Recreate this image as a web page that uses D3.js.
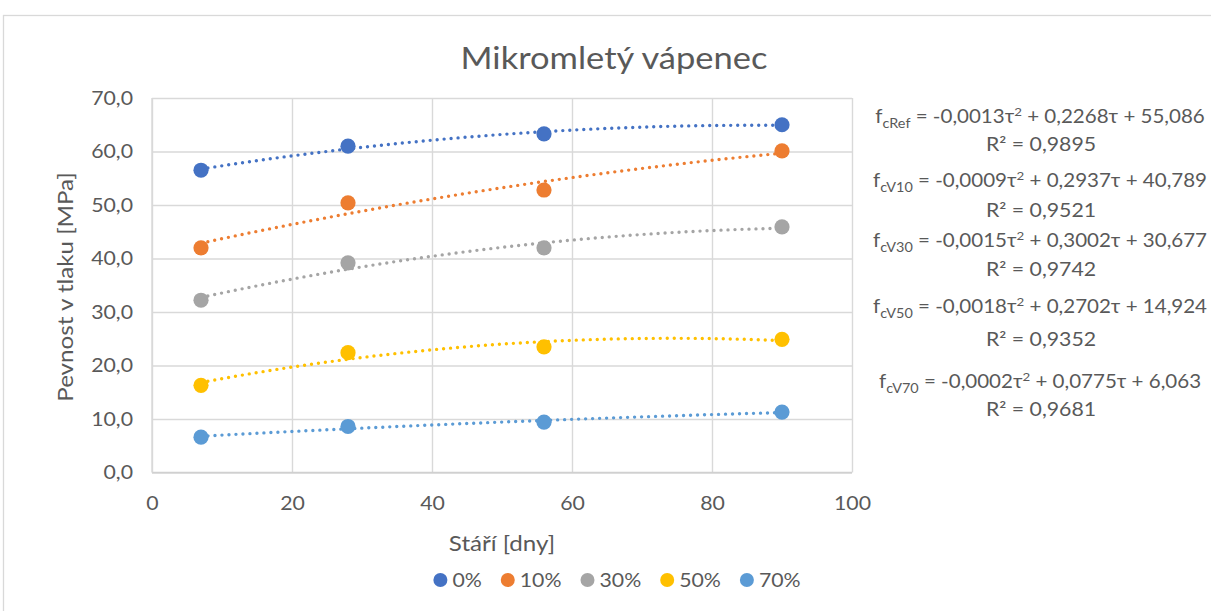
<!DOCTYPE html>
<html>
<head>
<meta charset="utf-8">
<script src="https://cdn.jsdelivr.net/npm/d3@7/dist/d3.min.js"></script>
<style>
  html, body { margin: 0; padding: 0; background: #fff; }
  svg { display: block; }
  text { font-family: Lato, "Open Sans", sans-serif; fill: #595959; }
</style>
</head>
<body>
<svg id="chart" width="1211" height="611"></svg>
<script>
// ---- data ----
const ages = [7, 28, 56, 90];
const seriesNames = ["0%", "10%", "30%", "50%", "70%"];
const values0 = [56.5, 61.0, 63.3, 65.0];
const values10 = [42.0, 50.4, 52.8, 60.1];
const values30 = [32.2, 39.2, 42.0, 45.9];
const values50 = [16.3, 22.4, 23.5, 24.9];
const values70 = [6.6, 8.6, 9.4, 11.3];
const seriesColors = ["#4472C4", "#ED7D31", "#A5A5A5", "#FFC000", "#5B9BD5"];
const xTicks = [0, 20, 40, 60, 80, 100];
const yTicks = [0, 10, 20, 30, 40, 50, 60, 70];
const eqSubs = ["cRef", "cV10", "cV30", "cV50", "cV70"];
const eqBodies = [
  [" = -0,0013τ", "2", " + 0,2268τ + 55,086"],
  [" = -0,0009τ", "2", " + 0,2937τ + 40,789"],
  [" = -0,0015τ", "2", " + 0,3002τ + 30,677"],
  [" = -0,0018τ", "2", " + 0,2702τ + 14,924"],
  [" = -0,0002τ", "2", " + 0,0775τ + 6,063"]
];
const eqR2 = ["R² = 0,9895", "R² = 0,9521", "R² = 0,9742", "R² = 0,9352", "R² = 0,9681"];
const titleText = "Mikromletý vápenec";
const xTitle = "Stáří [dny]";
const yTitle = "Pevnost v tlaku [MPa]";

const allValues = [values0, values10, values30, values50, values70];

// ---- layout ----
const SX = 1.15; // horizontal text stretch
const SXE = 1.11; // stretch for equations
const svg = d3.select("#chart");
const x = d3.scaleLinear().domain([0, 100]).range([152, 852]);
const y = d3.scaleLinear().domain([0, 70]).range([472.5, 98]);
const fmtY = d => d.toFixed(1).replace(".", ",");

// chart border
svg.append("rect").attr("x", 3.5).attr("y", 15.5).attr("width", 1400).attr("height", 800)
  .attr("fill", "#fff").attr("stroke", "#d9d9d9").attr("stroke-width", 1.3);

// gridlines via axes
const gx = svg.append("g").attr("transform", `translate(0,${y(0)})`)
  .call(d3.axisBottom(x).tickValues(xTicks).tickSize(-(y(0) - y(70))).tickFormat(d => d));
gx.select(".domain").remove();
gx.selectAll(".tick line").attr("stroke", "#d9d9d9").attr("stroke-width", 1.4);
gx.selectAll(".tick text")
  .attr("x", null).attr("y", null).attr("dy", null)
  .attr("transform", `translate(0,37.5) scale(${SX},1)`)
  .attr("fill", "#595959").style("font-size", "18.5px").style("font-family", "Lato");

const gy = svg.append("g").attr("transform", `translate(${x(0)},0)`)
  .call(d3.axisLeft(y).tickValues(yTicks).tickSize(-(x(100) - x(0))).tickFormat(fmtY));
gy.select(".domain").remove();
gy.selectAll(".tick line").attr("stroke", "#d9d9d9").attr("stroke-width", 1.4);
gy.selectAll(".tick text")
  .attr("x", null).attr("dy", "0.35em")
  .attr("transform", `translate(-19,0) scale(${SX},1)`)
  .attr("fill", "#595959").style("font-size", "18.5px").style("font-family", "Lato");

// axis base lines
svg.append("line").attr("x1", x(0)).attr("x2", x(100)).attr("y1", y(0)).attr("y2", y(0))
  .attr("stroke", "#d0d0d0").attr("stroke-width", 1.6);
svg.append("line").attr("x1", x(0)).attr("x2", x(0)).attr("y1", y(0)).attr("y2", y(70))
  .attr("stroke", "#d9d9d9").attr("stroke-width", 1.4);

// quadratic least-squares fit
function polyfit2(xs, ys) {
  const n = xs.length;
  let s = [0, 0, 0, 0, 0], t = [0, 0, 0];
  for (let i = 0; i < n; i++) {
    const xi = xs[i], yi = ys[i];
    for (let k = 0; k < 5; k++) s[k] += Math.pow(xi, k);
    for (let k = 0; k < 3; k++) t[k] += yi * Math.pow(xi, k);
  }
  const A = [[s[0], s[1], s[2], t[0]], [s[1], s[2], s[3], t[1]], [s[2], s[3], s[4], t[2]]];
  for (let i = 0; i < 3; i++) {
    let p = i;
    for (let r = i + 1; r < 3; r++) if (Math.abs(A[r][i]) > Math.abs(A[p][i])) p = r;
    [A[i], A[p]] = [A[p], A[i]];
    for (let r = 0; r < 3; r++) {
      if (r === i) continue;
      const f = A[r][i] / A[i][i];
      for (let c = i; c < 4; c++) A[r][c] -= f * A[i][c];
    }
  }
  return [A[0][3] / A[0][0], A[1][3] / A[1][1], A[2][3] / A[2][2]];
}

const line = d3.line().x(d => x(d[0])).y(d => y(d[1]));
allValues.forEach((vals, i) => {
  const c = polyfit2(ages, vals);
  const pts = d3.range(ages[0], ages[ages.length - 1] + 0.01, 0.5).map(t => [t, c[0] + c[1] * t + c[2] * t * t]);
  svg.append("path").datum(pts).attr("d", line).attr("fill", "none")
    .attr("stroke", seriesColors[i]).attr("stroke-width", 3.4)
    .attr("stroke-linecap", "round").attr("stroke-dasharray", "0 7");
});

// markers
allValues.forEach((vals, i) => {
  svg.append("g").selectAll("circle").data(vals).join("circle")
    .attr("cx", (d, j) => x(ages[j])).attr("cy", d => y(d)).attr("r", 7.6)
    .attr("fill", seriesColors[i]);
});

// title
svg.append("text").attr("transform", `translate(614,68.5) scale(${SX},1)`)
  .attr("text-anchor", "middle").style("font-size", "30px").text(titleText);

// axis titles
svg.append("text").attr("transform", `translate(502,551) scale(${SX},1)`)
  .attr("text-anchor", "middle").style("font-size", "21px").text(xTitle);
svg.append("text").attr("transform", `translate(73,287) rotate(-90) scale(${SX},1)`)
  .attr("text-anchor", "middle").style("font-size", "21px").text(yTitle);

// equations
const eqLine1Y = [123, 187, 247, 313, 388];
const eqLine2Y = [151, 217, 276, 346, 416];
eqSubs.forEach((sub, i) => {
  const t = svg.append("text").attr("transform", `translate(1040,${eqLine1Y[i]}) scale(${SXE},1)`)
    .attr("text-anchor", "middle").style("font-size", "18.5px");
  t.append("tspan").text("f");
  t.append("tspan").attr("dy", 5).style("font-size", "13px").text(sub);
  t.append("tspan").attr("dy", -5).text(eqBodies[i][0]);
  t.append("tspan").attr("dy", -7).style("font-size", "12px").text(eqBodies[i][1]);
  t.append("tspan").attr("dy", 7).text(eqBodies[i][2]);
  svg.append("text").attr("transform", `translate(1041,${eqLine2Y[i]}) scale(${SX},1)`)
    .attr("text-anchor", "middle").style("font-size", "18.5px").text(eqR2[i]);
});

// legend
const lg = svg.append("g");
let cx = 0;
seriesNames.forEach((name, i) => {
  const g = lg.append("g");
  g.append("circle").attr("cx", cx).attr("cy", 0).attr("r", 7).attr("fill", seriesColors[i]);
  const tx = g.append("text").attr("transform", `translate(${cx + 12},6.5) scale(${SX},1)`)
    .style("font-size", "18.5px").text(name);
  const w = tx.node().getComputedTextLength() * SX;
  cx += 12 + w + 26;
});
const totalW = cx - 26 + 7;
lg.attr("transform", `translate(${617 - totalW / 2 + 7},580)`);
</script>
</body>
</html>
